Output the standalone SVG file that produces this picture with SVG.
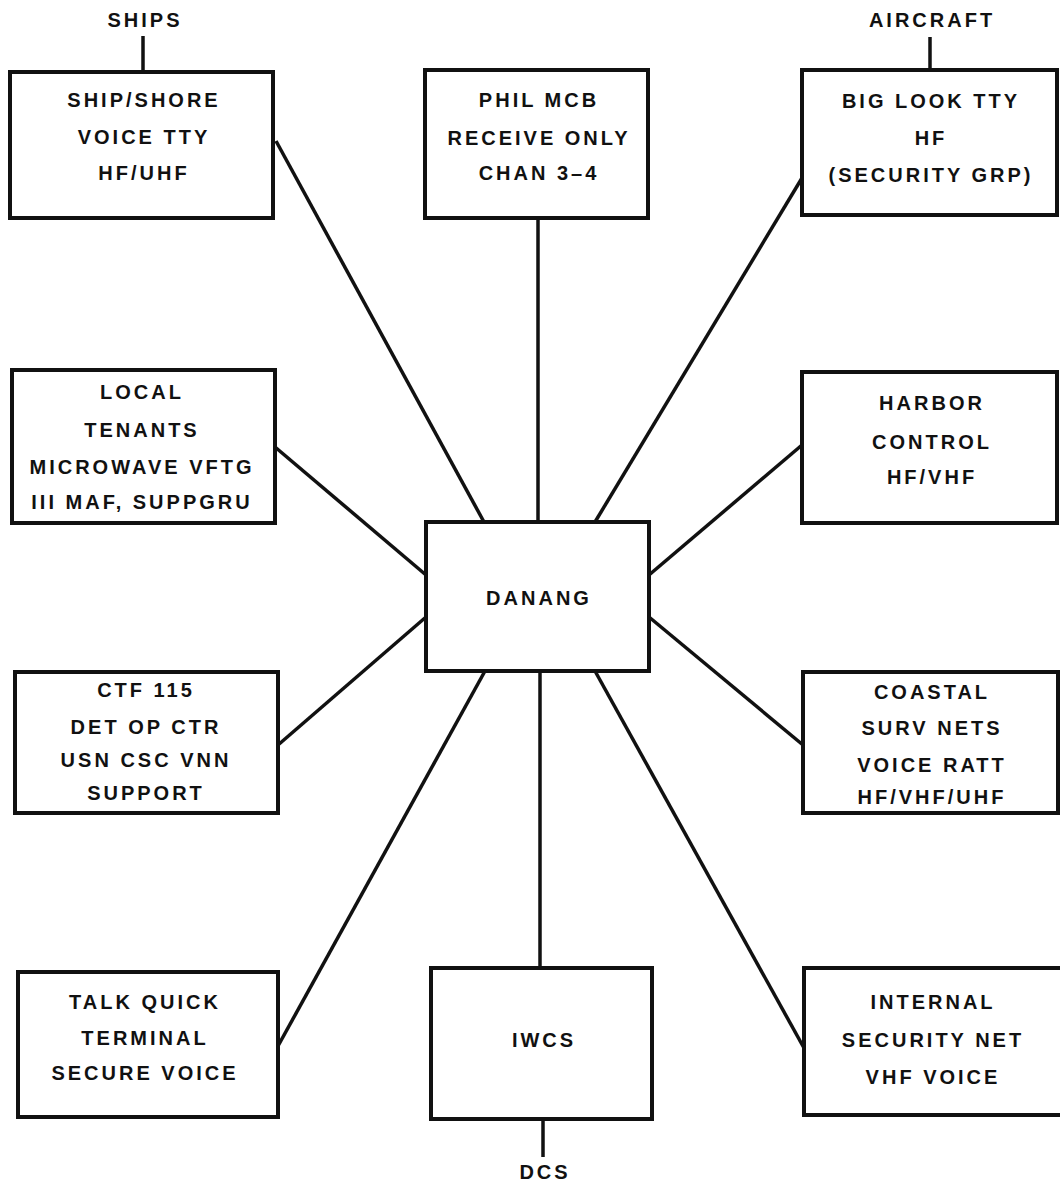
<svg xmlns="http://www.w3.org/2000/svg" width="1060" height="1184" viewBox="0 0 1060 1184">
<style>
.box{fill:#fff;stroke:#111;stroke-width:4}
.ln{stroke:#111;stroke-width:3.5;fill:none}
text{font-family:"Liberation Sans",Arial,sans-serif;font-weight:bold;font-size:20px;letter-spacing:3px;fill:#111;text-anchor:middle}
</style>
<rect width="1060" height="1184" fill="#fff"/>
<g id="connectors">
<line class="ln" x1="143" y1="36" x2="143" y2="72"/>
<line class="ln" x1="930" y1="37" x2="930" y2="70"/>
<line class="ln" x1="543" y1="1119" x2="543" y2="1157"/>
<line class="ln" x1="276" y1="141" x2="484" y2="522"/>
<line class="ln" x1="538" y1="218" x2="538" y2="522"/>
<line class="ln" x1="802" y1="178" x2="595" y2="522"/>
<line class="ln" x1="275" y1="447" x2="426" y2="575"/>
<line class="ln" x1="802" y1="445" x2="649" y2="575"/>
<line class="ln" x1="278" y1="745" x2="426" y2="617"/>
<line class="ln" x1="803" y1="745" x2="649" y2="617"/>
<line class="ln" x1="278" y1="1046" x2="485" y2="671"/>
<line class="ln" x1="540" y1="671" x2="540" y2="968"/>
<line class="ln" x1="804" y1="1048" x2="595" y2="671"/>
</g>
<g id="ships-label"><text x="145" y="27">SHIPS</text></g>
<g id="aircraft-label"><text x="932" y="27">AIRCRAFT</text></g>
<g id="dcs-label"><text x="545" y="1179">DCS</text></g>
<g id="ship-shore">
<rect class="box" x="10" y="72" width="263" height="146"/>
<text x="144" y="107">SHIP/SHORE</text>
<text x="144" y="144">VOICE TTY</text>
<text x="144" y="180">HF/UHF</text>
</g>
<g id="phil-mcb">
<rect class="box" x="425" y="70" width="223" height="148"/>
<text x="539" y="107">PHIL MCB</text>
<text x="539" y="145">RECEIVE ONLY</text>
<text x="539" y="180">CHAN 3–4</text>
</g>
<g id="big-look">
<rect class="box" x="802" y="70" width="255" height="145"/>
<text x="931" y="108">BIG LOOK TTY</text>
<text x="931" y="145">HF</text>
<text x="931" y="182">(SECURITY GRP)</text>
</g>
<g id="local-tenants">
<rect class="box" x="12" y="370" width="263" height="153"/>
<text x="142" y="399">LOCAL</text>
<text x="142" y="437">TENANTS</text>
<text x="142" y="474">MICROWAVE VFTG</text>
<text x="142" y="509">III MAF, SUPPGRU</text>
</g>
<g id="harbor-control">
<rect class="box" x="802" y="372" width="255" height="151"/>
<text x="932" y="410">HARBOR</text>
<text x="932" y="449">CONTROL</text>
<text x="932" y="484">HF/VHF</text>
</g>
<g id="danang">
<rect class="box" x="426" y="522" width="223" height="149"/>
<text x="539" y="605">DANANG</text>
</g>
<g id="ctf-115">
<rect class="box" x="15" y="672" width="263" height="141"/>
<text x="146" y="697">CTF 115</text>
<text x="146" y="734">DET OP CTR</text>
<text x="146" y="767">USN CSC VNN</text>
<text x="146" y="800">SUPPORT</text>
</g>
<g id="coastal">
<rect class="box" x="803" y="672" width="255" height="141"/>
<text x="932" y="699">COASTAL</text>
<text x="932" y="735">SURV NETS</text>
<text x="932" y="772">VOICE RATT</text>
<text x="932" y="804">HF/VHF/UHF</text>
</g>
<g id="talk-quick">
<rect class="box" x="18" y="972" width="260" height="145"/>
<text x="145" y="1009">TALK QUICK</text>
<text x="145" y="1045">TERMINAL</text>
<text x="145" y="1080">SECURE VOICE</text>
</g>
<g id="iwcs">
<rect class="box" x="431" y="968" width="221" height="151"/>
<text x="544" y="1047">IWCS</text>
</g>
<g id="internal-security">
<rect class="box" x="804" y="968" width="260" height="147"/>
<text x="933" y="1009">INTERNAL</text>
<text x="933" y="1047">SECURITY NET</text>
<text x="933" y="1084">VHF VOICE</text>
</g>
</svg>
